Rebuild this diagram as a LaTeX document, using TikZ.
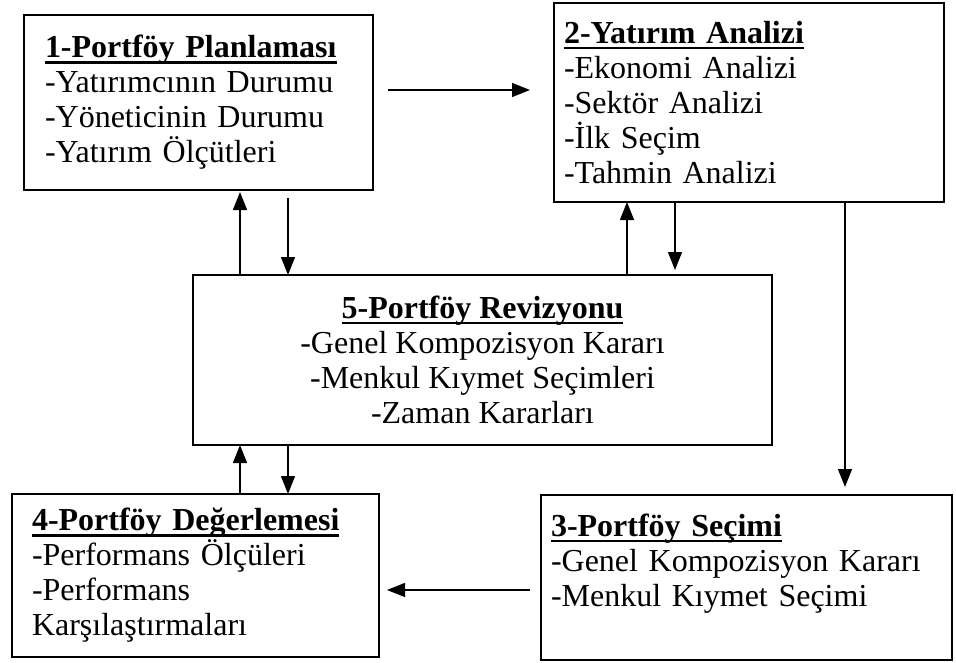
\documentclass[tikz,border=0pt]{standalone}
\usepackage{fontspec}
\setmainfont{Liberation Serif}
\usetikzlibrary{positioning, arrows.meta}

\newsavebox{\baslikkutu}
\newcommand{\baslik}[1]{\sbox{\baslikkutu}{\textbf{#1}}%
	\rlap{\rule[-5.8pt]{\wd\baslikkutu}{2.4pt}}\usebox{\baslikkutu}}

\begin{document}
\begin{tikzpicture}[x=1pt, y=-1pt,
		every node/.style = {font=\fontsize{32}{35}\selectfont},
		kutu/.style args = {#1/#2}{%
			rectangle, draw, line width=1.5pt, anchor=north west,
			minimum width=#1, minimum height=#2, inner sep=0pt, outer sep=0pt},
		sol/.style = {align=left, text width=#1},
		orta/.style = {align=center},
		ok/.style = {-{Triangle[length=18pt, width=14pt]}, line width=1.3pt}
                    ]
		\useasboundingbox (0,0) rectangle (956,662);

		% kutular
		\node(plan) [kutu=349pt/175pt, sol=307pt] at (24,15)
			{\baslik{1-Portföy Planlaması}\\ -Yatırımcının Durumu\\ -Yöneticinin Durumu\\ -Yatırım Ölçütleri};
		\node(analiz) [kutu=390pt/199pt, sol=370pt] at (554,3)
			{\baslik{2-Yatırım Analizi}\\ -Ekonomi Analizi\\ -Sektör Analizi\\ -İlk Seçim\\ -Tahmin Analizi};
		\node(revizyon) [kutu=579pt/170pt, orta] at (193,275)
			{\baslik{5-Portföy Revizyonu}\\ -Genel Kompozisyon Kararı\\ -Menkul Kıymet Seçimleri\\ -Zaman Kararları};
		\node(secim) [kutu=411pt/165pt, sol=391pt] at (541,495)
			{\baslik{3-Portföy Seçimi}\\ -Genel Kompozisyon Kararı\\ -Menkul Kıymet Seçimi\\ \mbox{}};
		\node(degerleme) [kutu=367pt/163pt, sol=327pt] at (12,494)
			{\baslik{4-Portföy Değerlemesi}\\ -Performans Ölçüleri\\ -Performans\\ Karşılaştırmaları};

		% ok hizalari
		\coordinate (y1) at (0,90);
		\coordinate (y3) at (0,590);
		\coordinate (x1) at (240,0);
		\coordinate (x2) at (288,0);
		\coordinate (x3) at (627,0);
		\coordinate (x4) at (675,0);
		\coordinate (x5) at (845,0);

		\path   (y1 -| plan.east) edge [ok, shorten <=15pt, shorten >=24pt] (y1 -| analiz.west)
        		(x1 |- revizyon.north) edge [ok, shorten >=2pt] (x1 |- plan.south)
        		(x2 |- plan.south) edge [ok, shorten <=8pt] (x2 |- revizyon.north)
        		(x3 |- revizyon.north) edge [ok] (x3 |- analiz.south)
        		(x4 |- analiz.south) edge [ok, shorten >=5pt] (x4 |- revizyon.north)
        		(x5 |- analiz.south) edge [ok, shorten >=8pt] (x5 |- secim.north)
        		(x1 |- degerleme.north) edge [ok] (x1 |- revizyon.south)
        		(x2 |- revizyon.south) edge [ok] (x2 |- degerleme.north)
        		(y3 -| secim.west) edge [ok, shorten <=11pt, shorten >=8pt] (y3 -| degerleme.east);
	\end{tikzpicture}
\end{document}
